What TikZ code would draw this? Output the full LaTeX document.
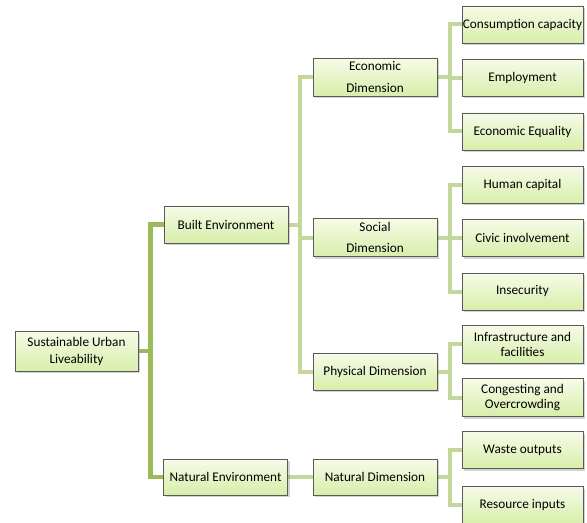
\documentclass[tikz,border=0pt]{standalone}
\usepackage{fontspec}
\setmainfont{Carlito}
\usetikzlibrary{shadows,backgrounds}
\definecolor{boxtop}{RGB}{246,251,232}
\definecolor{boxbot}{RGB}{216,238,170}
\definecolor{boxline}{RGB}{90,90,90}
\definecolor{mainline}{RGB}{155,187,89}
\definecolor{subline}{RGB}{196,215,155}
\tikzset{
  box/.style={draw=boxline, line width=0.6bp, top color=boxtop, bottom color=boxbot,
    minimum width=124bp, minimum height=38bp, inner sep=0.5bp, align=center,
    font=\fontsize{13.3}{15}\selectfont,
    drop shadow={opacity=0.35, shadow xshift=2bp, shadow yshift=-2bp}},
  leaf/.style={box, minimum width=121bp, minimum height=37bp},
  mainconn/.style={draw=mainline, line width=4.5bp},
  subconn/.style={draw=subline, line width=4bp}
}
\begin{document}
\begin{tikzpicture}[x=1bp,y=-1bp]
\useasboundingbox (0,0) rectangle (587,523);
\node[box, minimum width=123bp, minimum height=40bp] (root) at (76.5,351) {Sustainable Urban\\[2bp]Liveability};
\node[box, minimum height=37bp] (built) at (226,224.5) {Built Environment};
\node[box, minimum height=36bp] (natenv) at (225.5,477) {Natural Environment};
\node[box] (econ) at (375,77) {Economic\\[6.5bp]Dimension};
\node[box] (social) at (375,237.5) {Social\\[6.5bp]Dimension};
\node[box, minimum height=37bp] (phys) at (375,371.5) {Physical Dimension};
\node[box, minimum height=36bp] (natdim) at (375,477) {Natural Dimension};
\node[leaf] (cons) at (522.5,24.5) {Consumption capacity};
\node[leaf] (empl) at (522.5,78) {Employment};
\node[leaf] (eqty) at (522.5,131.5) {Economic Equality};
\node[leaf] (human) at (522.5,185) {Human capital};
\node[leaf] (civic) at (522.5,238) {Civic involvement};
\node[leaf] (insec) at (522.5,291.5) {Insecurity};
\node[leaf, minimum height=38bp] (infra) at (522.5,344) {Infrastructure and\\facilities};
\node[leaf, minimum height=38bp] (cong) at (522.5,397.5) {Congesting and\\Overcrowding};
\node[leaf] (waste) at (522.5,450) {Waste outputs};
\node[leaf] (res) at (522.5,505) {Resource inputs};
\begin{scope}[on background layer]
\coordinate (rj) at ([xshift=12bp]root.east);
\draw[mainconn] (root.east) -- (rj);
\draw[mainconn] (rj) |- (built.west);
\draw[mainconn] (rj) |- (natenv.west);
\coordinate (bj) at ([xshift=12bp]built.east);
\draw[subconn] (built.east) -- (bj);
\draw[subconn] (bj) |- (econ.west);
\draw[subconn] (bj) |- (social.west);
\draw[subconn] (bj) |- (phys.west);
\draw[subconn] (natenv.east) -- (natdim.west);
\foreach \p/\a/\b/\c in {econ/cons/empl/eqty, social/human/civic/insec}{
  \coordinate (j\p) at ([xshift=13bp]\p.east);
  \draw[subconn] (\p.east) -- (j\p);
  \draw[subconn] (j\p) |- (\a.west);
  \draw[subconn] (j\p) |- (\b.west);
  \draw[subconn] (j\p) |- (\c.west);
}
\foreach \p/\a/\b in {phys/infra/cong, natdim/waste/res}{
  \coordinate (j\p) at ([xshift=13bp]\p.east);
  \draw[subconn] (\p.east) -- (j\p);
  \draw[subconn] (j\p) |- (\a.west);
  \draw[subconn] (j\p) |- (\b.west);
}
\end{scope}
\end{tikzpicture}
\end{document}
